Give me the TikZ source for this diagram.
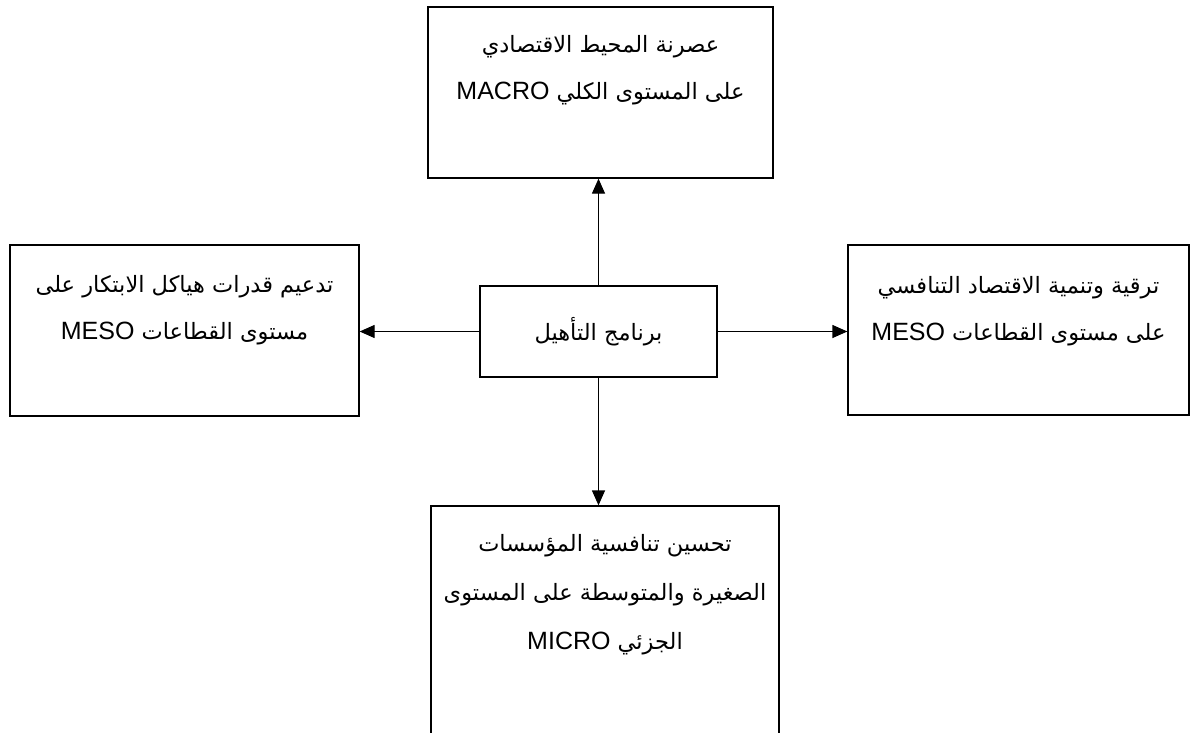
\documentclass[tikz,border=0pt]{standalone}
\usepackage{fontspec}
\setmainfont{Liberation Sans}
\newfontfamily\arabicfont[Script=Arabic,Scale=0.9]{DejaVu Sans}
\TeXXeTstate=1
\usetikzlibrary{arrows.meta,positioning}

\newcommand\arline[1]{{\arabicfont\beginR #1\endR}}
\newcommand\latword[1]{\beginL{\rmfamily #1}\endL{}}

\tikzset{%
  blockbox/.style={draw, line width=1.3pt, rectangle, inner sep=0pt},%
  blocktext/.style={anchor=north, align=center, inner sep=0pt,%
    font=\fontsize{25}{47}\selectfont},%
  arr/.style={line width=1.3pt, -{Triangle[length=15pt,width=13pt]}},%
}

\begin{document}
\begin{tikzpicture}[x=1pt,y=-1pt]
\useasboundingbox (0,0) rectangle (1191,733);
% boxes
\node[blockbox, minimum width=345pt, minimum height=171pt] (macro) at (600.5,92.5) {};
\node[blockbox, minimum width=349pt, minimum height=171pt] (mesoL) at (184.5,330.5) {};
\node[blockbox, minimum width=341pt, minimum height=170pt] (mesoR) at (1018.5,330) {};
\node[blockbox, minimum width=237pt, minimum height=91pt] (prog) at (598.5,331.5) {};
\node[blockbox, minimum width=348pt, minimum height=240pt] (micro) at (605,626) {};
% texts
\node[blocktext, below=29pt of macro.north] (macrotxt)
  {\arline{عصرنة المحيط الاقتصادي}\\\arline{على المستوى الكلي \latword{MACRO}}};
\node[blocktext, below=31pt of mesoL.north] (mesoLtxt)
  {\arline{تدعيم قدرات هياكل الابتكار على}\\\arline{مستوى القطاعات \latword{MESO}}};
\node[blocktext, below=32pt of mesoR.north] (mesoRtxt)
  {\arline{ترقية وتنمية الاقتصاد التنافسي}\\\arline{على مستوى القطاعات \latword{MESO}}};
\node[blocktext, below=29pt of micro.north, font=\fontsize{25}{49}\selectfont] (microtxt)
  {\arline{تحسين تنافسية المؤسسات}\\\arline{الصغيرة والمتوسطة على المستوى}\\\arline{الجزئي \latword{MICRO}}};
\node[blocktext, anchor=center] (progtxt) at (prog) {\arline{برنامج التأهيل}};
% arrows
\draw[arr] (prog.north) -- (prog.north |- macro.south);
\draw[arr] (prog.south) -- (prog.south |- micro.north);
\draw[arr] (prog.west) -- (prog.west -| mesoL.east);
\draw[arr] (prog.east) -- (prog.east -| mesoR.west);
\end{tikzpicture}
\end{document}
